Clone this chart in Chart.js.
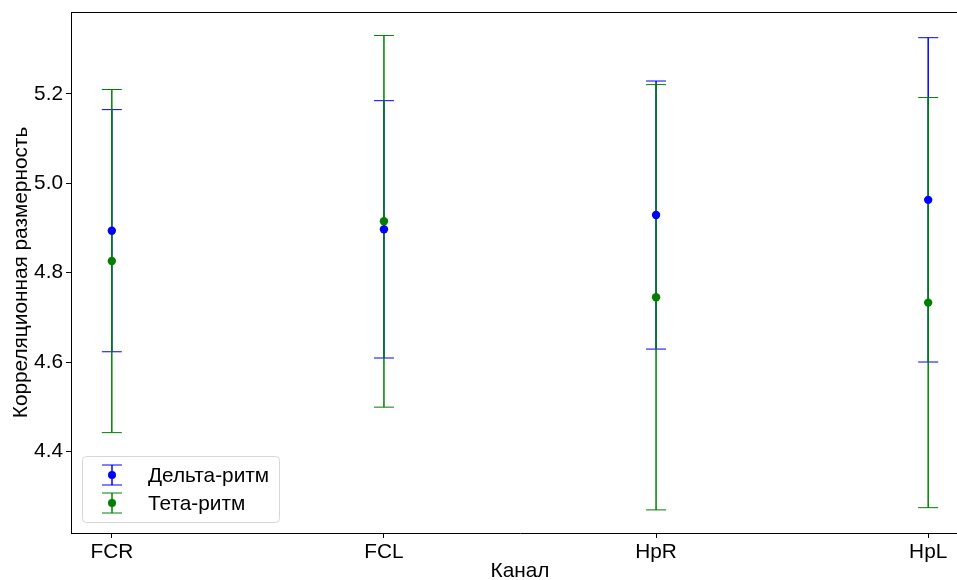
<!DOCTYPE html>
<html>
<head>
<meta charset="utf-8">
<script src="https://cdn.jsdelivr.net/npm/chart.js@4.4.1/dist/chart.umd.min.js"></script>
<style>
  html, body { margin: 0; padding: 0; background: #fff; overflow: hidden; }
  #wrap { width: 990px; height: 582px; }
</style>
</head>
<body>
<div id="wrap"><canvas id="chart" width="990" height="582"></canvas></div>
<script>
const channels = ["FCR", "FCL", "HpR", "HpL"];
const deltaMean = [4.894, 4.897, 4.929, 4.963];
const deltaErr = [0.271, 0.288, 0.300, 0.363];
const thetaMean = [4.826, 4.915, 4.745, 4.733];
const thetaErr = [0.384, 0.416, 0.476, 0.459];
const yTicks = [4.4, 4.6, 4.8, 5.0, 5.2];

const FONT = "'Liberation Sans', Arial, sans-serif";
const FS = 20.8;

const toPoints = (arr) => arr.map((v, i) => ({ x: i, y: v }));

// error bars go under all markers, like matplotlib
const errorBars = {
  id: "errorBars",
  beforeDatasetsDraw(chart) {
    const ctx = chart.ctx;
    const x = chart.scales.x;
    const y = chart.scales.y;
    chart.data.datasets.forEach((ds) => {
      ds.data.forEach((p, i) => {
        const px = x.getPixelForValue(p.x);
        const top = y.getPixelForValue(p.y + ds.err[i]);
        const bot = y.getPixelForValue(p.y - ds.err[i]);
        ctx.save();
        ctx.strokeStyle = ds.borderColor;
        ctx.lineWidth = 1.5;
        ctx.beginPath();
        ctx.moveTo(px, top);
        ctx.lineTo(px, bot);
        ctx.stroke();
        ctx.lineWidth = 1;
        ctx.beginPath();
        ctx.moveTo(px - 10, top);
        ctx.lineTo(px + 10, top);
        ctx.moveTo(px - 10, bot);
        ctx.lineTo(px + 10, bot);
        ctx.stroke();
        ctx.restore();
      });
    });
  },
  afterDraw(chart) {
    const ctx = chart.ctx;
    const a = chart.chartArea;
    // top spine
    ctx.save();
    ctx.strokeStyle = "#000";
    ctx.lineWidth = 1;
    ctx.beginPath();
    ctx.moveTo(a.left, a.top + 0.5);
    ctx.lineTo(a.right, a.top + 0.5);
    ctx.stroke();

    // legend box, lower left inside the axes
    const bx = a.left + 11, by = a.bottom - 77, bw = 197, bh = 66;
    ctx.fillStyle = "rgba(255,255,255,0.8)";
    ctx.strokeStyle = "#d6d6d6";
    ctx.beginPath();
    ctx.roundRect(bx + 0.5, by + 0.5, bw, bh, 4);
    ctx.fill();
    ctx.stroke();
    chart.data.datasets.forEach((ds, k) => {
      const cy = by + 19 + k * 28;
      const cx = bx + 30;
      ctx.strokeStyle = ds.borderColor;
      ctx.lineWidth = 1.5;
      ctx.beginPath();
      ctx.moveTo(cx, cy - 10);
      ctx.lineTo(cx, cy + 10);
      ctx.stroke();
      ctx.lineWidth = 1;
      ctx.beginPath();
      ctx.moveTo(cx - 10, cy - 10);
      ctx.lineTo(cx + 10, cy - 10);
      ctx.moveTo(cx - 10, cy + 10);
      ctx.lineTo(cx + 10, cy + 10);
      ctx.stroke();
      ctx.fillStyle = ds.backgroundColor;
      ctx.beginPath();
      ctx.arc(cx, cy, 4, 0, Math.PI * 2);
      ctx.fill();
      ctx.fillStyle = "#000";
      ctx.font = FS + "px " + FONT;
      ctx.textBaseline = "middle";
      ctx.fillText(ds.label, bx + 66, cy + 1);
    });
    ctx.restore();
  }
};

new Chart(document.getElementById("chart"), {
  type: "line",
  data: {
    datasets: [
      {
        label: "Дельта-ритм",
        data: toPoints(deltaMean),
        err: deltaErr,
        borderColor: "#0000ff",
        backgroundColor: "#0000ff",
        showLine: false,
        pointRadius: 4.2,
        pointBorderWidth: 0
      },
      {
        label: "Тета-ритм",
        data: toPoints(thetaMean),
        err: thetaErr,
        borderColor: "#008000",
        backgroundColor: "#008000",
        showLine: false,
        pointRadius: 4.2,
        pointBorderWidth: 0
      }
    ]
  },
  options: {
    responsive: false,
    animation: false,
    layout: { padding: { left: 0, top: 12, right: 21, bottom: 0 } },
    plugins: { legend: { display: false }, tooltip: { enabled: false } },
    scales: {
      x: {
        type: "linear",
        min: -0.15,
        max: 3.15,
        afterBuildTicks(scale) {
          scale.ticks = channels.map((c, i) => ({ value: i }));
        },
        afterFit(scale) {
          scale.height = 49;
          scale.paddingLeft = 0;
          scale.paddingRight = 0;
        },
        ticks: {
          callback: (v) => channels[v],
          color: "#000",
          font: { family: FONT, size: FS },
          padding: 2,
          maxRotation: 0,
          autoSkip: false
        },
        grid: { drawOnChartArea: false, drawTicks: true, tickLength: 5, color: "#000" },
        border: { color: "#000", width: 1 },
        title: {
          display: true,
          text: "Канал",
          color: "#000",
          font: { family: FONT, size: FS, lineHeight: 1.0 },
          padding: { top: 0, bottom: 0 }
        }
      },
      y: {
        min: 4.2173,
        max: 5.3835,
        afterBuildTicks(scale) {
          scale.ticks = yTicks.map((v) => ({ value: v }));
        },
        afterFit(scale) {
          scale.width = 71;
          scale.paddingTop = 0;
          scale.paddingBottom = 0;
        },
        ticks: {
          callback: (v) => v.toFixed(1),
          color: "#000",
          font: { family: FONT, size: FS },
          padding: 3
        },
        grid: { drawOnChartArea: false, drawTicks: true, tickLength: 5, color: "#000" },
        border: { color: "#000", width: 1 },
        title: {
          display: true,
          text: "Корреляционная размерность",
          color: "#000",
          font: { family: FONT, size: FS, lineHeight: 1.2 },
          padding: { top: 9, bottom: 0 }
        }
      }
    }
  },
  plugins: [errorBars]
});
</script>
</body>
</html>
